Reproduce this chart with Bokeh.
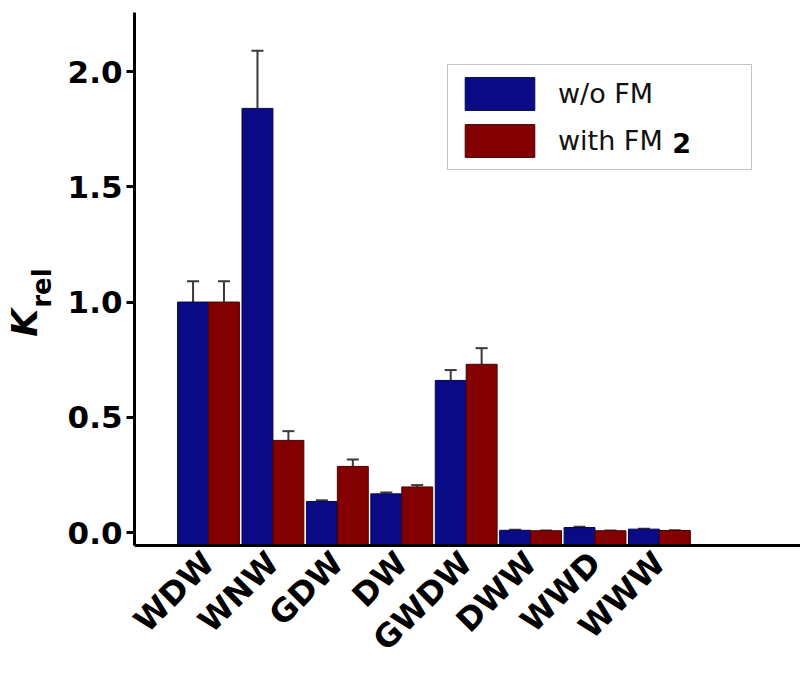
import math
from bokeh.plotting import figure
from bokeh.models import (ColumnDataSource, Range1d, FixedTicker, Whisker, TeeHead,
                          Legend, LegendItem, Label, NumeralTickFormatter, LinearAxis)
from bokeh.transform import dodge
from bokeh.embed import file_html
from bokeh.resources import INLINE

categories = ["WDW", "WNW", "GDW", "DW", "GWDW", "DWW", "WWD", "WWW"]
wo_fm = [1.00, 1.84, 0.135, 0.168, 0.66, 0.010, 0.022, 0.015]
wo_fm_err = [0.09, 0.25, 0.005, 0.006, 0.045, 0.002, 0.003, 0.002]
with_fm = [1.00, 0.40, 0.287, 0.198, 0.73, 0.008, 0.008, 0.009]
with_fm_err = [0.09, 0.04, 0.03, 0.008, 0.07, 0.001, 0.001, 0.001]
y_ticks = [0.0, 0.5, 1.0, 1.5, 2.0]

Y_LO, Y_HI = -0.056, 2.256
X_LO, X_HI = -1.149, 9.19

src = ColumnDataSource(dict(
    x=list(range(len(categories))),
    blue=wo_fm,
    red=with_fm,
    bu=[v + e for v, e in zip(wo_fm, wo_fm_err)],
    bl=[v - e for v, e in zip(wo_fm, wo_fm_err)],
    ru=[v + e for v, e in zip(with_fm, with_fm_err)],
    rl=[v - e for v, e in zip(with_fm, with_fm_err)],
))

p = figure(width=800, height=675, output_backend="svg", toolbar_location=None,
           x_range=Range1d(X_LO, X_HI), y_range=Range1d(Y_LO, Y_HI),
           min_border_left=134, min_border_right=0, min_border_top=12, min_border_bottom=130)
p.xgrid.visible = False
p.ygrid.visible = False
p.outline_line_color = None
p.background_fill_color = "white"

BLUE = "#0a0a86"
RED = "#820000"
r1 = p.vbar(x=dodge("x", -0.24, range=p.x_range), top="blue", bottom=Y_LO, width=0.48,
            source=src, fill_color=BLUE, line_color="#06064f", line_width=1)
r2 = p.vbar(x=dodge("x", 0.24, range=p.x_range), top="red", bottom=Y_LO, width=0.48,
            source=src, fill_color=RED, line_color="#4a0000", line_width=1)

for base, up, lo in [(dodge("x", -0.24, range=p.x_range), "bu", "bl"),
                     (dodge("x", 0.24, range=p.x_range), "ru", "rl")]:
    w = Whisker(source=src, base=base, upper=up, lower=lo,
                line_color="#3a3a3a", line_width=2,
                upper_head=TeeHead(size=12, line_color="#3a3a3a", line_width=2),
                lower_head=TeeHead(size=0, line_alpha=0))
    p.add_layout(w)

# axes
p.axis.axis_line_width = 3
p.axis.axis_line_color = "black"
p.axis.minor_tick_line_color = None
p.axis.major_label_text_font = "DejaVu Sans"
p.axis.major_label_text_font_style = "bold"
p.axis.major_label_text_color = "black"

p.yaxis.ticker = FixedTicker(ticks=y_ticks)
p.yaxis.formatter = NumeralTickFormatter(format="0.0")
p.yaxis.major_tick_line_width = 3
p.yaxis.major_tick_out = 8
p.yaxis.major_tick_in = 0
p.yaxis.major_label_text_font_size = "31px"
p.yaxis.major_label_standoff = 4

p.xaxis.ticker = FixedTicker(ticks=list(range(len(categories))))
p.xaxis.major_label_overrides = {i: c for i, c in enumerate(categories)}
p.xaxis.major_label_orientation = math.pi / 4
p.xaxis.major_tick_line_color = None
p.xaxis.major_label_text_font_size = "32px"
p.xaxis.major_label_standoff = 6

# y-axis title K_rel, built from two label-only axes placed left of the main axis
NBSP = "\u00a0"

def label_axis(text, standoff, size, style):
    ax = LinearAxis(ticker=FixedTicker(ticks=[]),
                    axis_line_color=None, major_tick_line_color=None,
                    minor_tick_line_color=None, axis_label=text,
                    axis_label_standoff=standoff,
                    axis_label_text_font="DejaVu Sans",
                    axis_label_text_font_style=style,
                    axis_label_text_font_size=size,
                    axis_label_text_color="black")
    p.add_layout(ax, "left")
    return ax

label_axis("rel" + NBSP * 2, 8, "26px", "bold")
label_axis("K" + NBSP * 7, -21, "36px", "bold italic")

legend = Legend(items=[LegendItem(label="w/o FM", renderers=[r1]),
                       LegendItem(label="with FM", renderers=[r2])],
                location=(313, 375), glyph_width=87, glyph_height=41, label_standoff=15,
                label_width=185, padding=8, spacing=6, margin=0,
                border_line_color="#8a8a8a", border_line_width=1.5,
                background_fill_alpha=0,
                label_text_font="DejaVu Sans", label_text_font_size="27px",
                label_text_color="#111111")
p.add_layout(legend)
p.add_layout(Label(x=7.2, y=1.692, text="2", text_baseline="middle", text_align="left",
                   text_font="DejaVu Sans", text_font_style="bold", text_font_size="27px",
                   text_color="black", level="overlay"))

open("out.html", "w").write(file_html(p, INLINE))
